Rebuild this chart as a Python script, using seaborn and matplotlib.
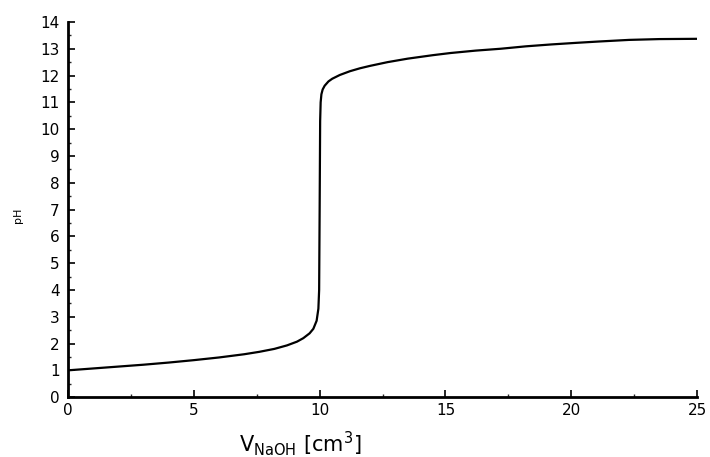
import matplotlib
matplotlib.use("Agg")
import matplotlib.pyplot as plt
import seaborn as sns
import pandas as pd
from matplotlib.ticker import MultipleLocator

# Titration curve
volume = [0, 1, 2, 3, 4, 5, 6, 7, 7.6, 8.2, 8.7, 9.1, 9.35, 9.6, 9.75, 9.88, 9.95, 9.98,
          10.0, 10.02, 10.04, 10.07, 10.12, 10.2, 10.35, 10.5, 10.8, 11.2, 11.6, 12.0,
          12.7, 13.5, 14.5, 15.2, 16.2, 17.2, 18.2, 19.2, 20.2, 21.1, 22.3, 23.5, 25]
ph = [1.0, 1.07, 1.14, 1.21, 1.29, 1.38, 1.48, 1.6, 1.69, 1.8, 1.93, 2.07, 2.2, 2.38, 2.55, 2.85, 3.3, 4.0,
      7.0, 10.3, 11.0, 11.3, 11.48, 11.62, 11.78, 11.88, 12.02, 12.16, 12.27, 12.36,
      12.5, 12.63, 12.76, 12.84, 12.93, 13.0, 13.09, 13.16, 13.22, 13.27, 13.33, 13.36, 13.37]

x_ticks = [0, 5, 10, 15, 20, 25]
y_ticks = list(range(0, 15))

df = pd.DataFrame({"V": volume, "pH": ph})

sns.set_style("ticks")
plt.rcParams['font.family'] = ['DejaVu Sans']

fig = plt.figure(figsize=(7.1, 4.57), dpi=100)
ax = fig.add_axes([0.0958, 0.131, 0.886, 0.821])

sns.lineplot(data=df, x="V", y="pH", ax=ax, color="black", linewidth=1.6,
             estimator=None, sort=False)

ax.set_xlim(0, 25)
ax.set_ylim(0, 14)
ax.set_xticks(x_ticks)
ax.set_yticks(y_ticks)
ax.xaxis.set_minor_locator(MultipleLocator(2.5))
ax.yaxis.set_minor_locator(MultipleLocator(0.5))
ax.tick_params(axis="both", which="major", direction="in", length=5, width=1.2,
               labelsize=11, colors="black")
ax.tick_params(axis="both", which="minor", direction="in", length=2.5, width=1)
ax.tick_params(axis="y", pad=6)
ax.tick_params(axis="x", pad=4)
sns.despine(ax=ax)
for s in ("left", "bottom"):
    ax.spines[s].set_linewidth(2)
    ax.spines[s].set_color("black")

ax.set_xlabel(r"$\mathregular{V_{NaOH}\ [cm^3]}$", fontsize=15, va="center", color="black")
ax.xaxis.set_label_coords(0.37, -0.125)
ax.set_ylabel("pH", fontsize=8, va="center", color="black")
ax.yaxis.set_label_coords(-0.079, 0.485)

fig.savefig("out.png", dpi=100)
